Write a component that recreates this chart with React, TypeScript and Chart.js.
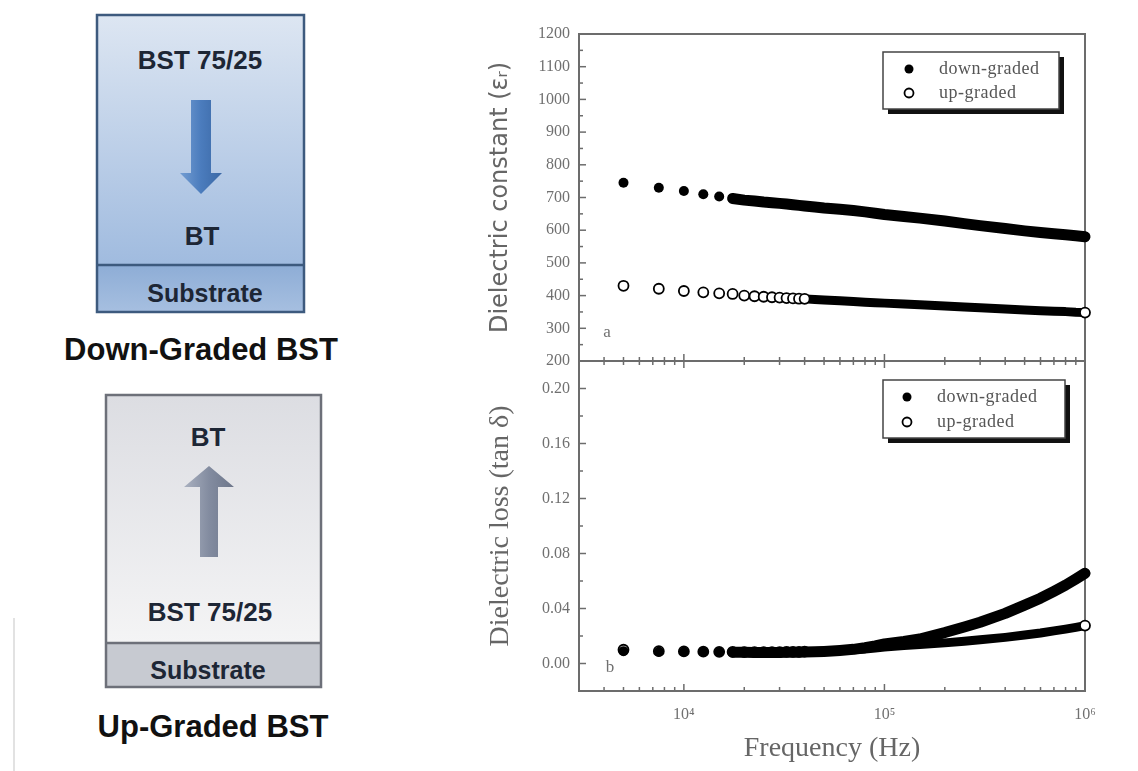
import React, { useEffect, useRef } from "react";
import { Chart, registerables } from "chart.js";

Chart.register(...registerables);

// ---- measured data (frequency sweep, Hz) ----
const frequencyHz = [
  5000, 7500, 10000, 12500, 15000, 17500, 20000, 22500, 25000, 27500, 30000, 32500,
  35000, 37500, 40000, 45000, 50000, 60000, 70000, 80000, 90000, 100000, 125000,
  150000, 200000, 250000, 300000, 400000, 500000, 600000, 700000, 800000, 900000, 1000000,
];

// dielectric constant (εr)
const permittivityDown = [
  745, 730, 720, 710, 703, 697, 692, 689, 686, 684, 682, 680, 678, 676, 674, 671, 668,
  664, 660, 656, 652, 648, 642, 637, 628, 620, 614, 605, 598, 593, 589, 586, 583, 580,
];
const permittivityUp = [
  430, 421, 414, 410, 407, 405, 400, 398, 396.5, 395, 394, 392.5, 391.5, 390.5, 390, 388,
  386.5, 384, 382, 380, 378.5, 377, 374, 372, 368, 365, 363, 359, 356, 354, 352, 351, 349, 348,
];

// dielectric loss (tan δ)
const lossDown = [
  0.009, 0.0085, 0.0085, 0.0085, 0.0083, 0.0082, 0.0081, 0.008, 0.008, 0.008, 0.008, 0.0081,
  0.0081, 0.0082, 0.0083, 0.0085, 0.0088, 0.0095, 0.0103, 0.0115, 0.0128, 0.0142, 0.016,
  0.0178, 0.0225, 0.0265, 0.03, 0.0365, 0.0425, 0.0475, 0.0525, 0.057, 0.0615, 0.0656,
];
const lossUp = [
  0.01, 0.009, 0.0088, 0.0086, 0.0085, 0.0084, 0.0083, 0.0083, 0.0083, 0.0083, 0.0083, 0.0084,
  0.0084, 0.0085, 0.0086, 0.0088, 0.009, 0.0095, 0.01, 0.0106, 0.0113, 0.012, 0.013, 0.0138,
  0.015, 0.0162, 0.0172, 0.019, 0.0207, 0.0222, 0.0237, 0.025, 0.0263, 0.0276,
];

const seriesLabels = ["down-graded", "up-graded"];

const permittivityTicks = [200, 300, 400, 500, 600, 700, 800, 900, 1000, 1100, 1200];
const permittivityTickLabels = ["200", "300", "400", "500", "600", "700", "800", "900", "1000", "1100", "1200"];
const lossTicks = [0, 0.04, 0.08, 0.12, 0.16, 0.2];
const lossTickLabels = ["0.00", "0.04", "0.08", "0.12", "0.16", "0.20"];
const decadeTicks = [10000, 100000, 1000000];
const decadeTickLabels = ["10\u2074", "10\u2075", "10\u2076"];

const FREQ_MIN = 3000;
const FREQ_MAX = 1000000;

// minor tick marks on the log axis: 2..9 × each decade
const minorFrequencyTicks: number[] = [];
for (const decade of [1000, 10000, 100000]) {
  for (let m = 2; m <= 9; m++) {
    const v = m * decade;
    if (v > FREQ_MIN && v < FREQ_MAX) minorFrequencyTicks.push(v);
  }
}
const midpoints = (ticks: number[]) => ticks.slice(1).map((v, i) => (v + ticks[i]) / 2);

const AXIS_GREY = "#6c6c6c";
const LABEL_GREY = "#707070";

// one dataset: discrete markers at low frequency, a dense trace where the sweep points overlap
function series(label: string, values: number[], filled: boolean, bandFromHz: number, markersUpToHz: number) {
  const last = values.length - 1;
  return {
    label,
    data: frequencyHz.map((x, i) => ({ x, y: values[i] })),
    showLine: true,
    borderColor: "#000",
    borderWidth: filled ? 11 : 9,
    borderJoinStyle: "round",
    borderCapStyle: "round",
    segment: {
      borderColor: (c: any) => (c.p0.parsed.x >= bandFromHz ? "#000" : "rgba(0,0,0,0)"),
    },
    pointStyle: "circle",
    pointRadius: (c: any) =>
      frequencyHz[c.dataIndex] <= markersUpToHz || c.dataIndex === last ? 5 : 0,
    pointBackgroundColor: filled ? "#000" : "#fff",
    pointBorderColor: "#000",
    pointBorderWidth: filled ? 0 : 1.8,
    clip: false,
  };
}

// axis frame with inward ticks (drawn under the data)
const framePlugin = {
  id: "frame",
  beforeDatasetsDraw(chart: any, _args: any, o: any) {
    const { ctx, chartArea, scales } = chart;
    const { left, right, top, bottom } = chartArea;
    const line = (x1: number, y1: number, x2: number, y2: number) => {
      ctx.beginPath();
      ctx.moveTo(x1, y1);
      ctx.lineTo(x2, y2);
      ctx.stroke();
    };
    ctx.save();
    ctx.strokeStyle = AXIS_GREY;
    ctx.lineWidth = 2;
    ctx.strokeRect(left, top, right - left, bottom - top);
    ctx.lineWidth = 1.5;
    for (const v of o.yMajor) {
      const py = scales.y.getPixelForValue(v);
      line(left, py, left + 7, py);
    }
    for (const v of o.yMinor) {
      const py = scales.y.getPixelForValue(v);
      line(left, py, left + 4, py);
    }
    const xs = scales.x;
    for (const [vals, len] of [
      [decadeTicks, 7],
      [minorFrequencyTicks, 4],
    ] as [number[], number][]) {
      for (const v of vals) {
        const px = xs.getPixelForValue(v);
        if (o.ticksOnBottom) line(px, bottom, px, bottom - len);
        if (o.ticksOnTop) line(px, top, px, top + len);
      }
    }
    ctx.restore();
  },
};

// boxed legend with drop shadow inside the plot, plus the panel letter
const boxLegendPlugin = {
  id: "boxLegend",
  afterDraw(chart: any, _args: any, o: any) {
    const { ctx } = chart;
    ctx.save();
    ctx.fillStyle = "#111";
    ctx.fillRect(o.x + 5, o.y + 5, o.w, o.h);
    ctx.fillStyle = "#fff";
    ctx.fillRect(o.x, o.y, o.w, o.h);
    ctx.strokeStyle = "#444";
    ctx.lineWidth = 1.5;
    ctx.strokeRect(o.x, o.y, o.w, o.h);
    chart.data.datasets.forEach((ds: any, i: number) => {
      const cy = o.rows[i];
      ctx.beginPath();
      ctx.arc(o.markerX, cy, 4.5, 0, Math.PI * 2);
      ctx.fillStyle = ds.pointBackgroundColor;
      ctx.fill();
      if (ds.pointBorderWidth) {
        ctx.lineWidth = ds.pointBorderWidth;
        ctx.strokeStyle = ds.pointBorderColor;
        ctx.stroke();
      }
      ctx.font = "18px 'Liberation Serif'";
      if ("letterSpacing" in ctx) (ctx as any).letterSpacing = "0.5px";
      ctx.fillStyle = "#555";
      ctx.textAlign = "left";
      ctx.textBaseline = "middle";
      ctx.fillText(ds.label, o.textX, cy);
      if ("letterSpacing" in ctx) (ctx as any).letterSpacing = "0px";
    });
    ctx.font = "17px 'Liberation Serif'";
    ctx.fillStyle = LABEL_GREY;
    ctx.textAlign = "center";
    ctx.textBaseline = "middle";
    ctx.fillText(o.letter, o.letterX, o.letterY);
    ctx.restore();
  },
};

const tickFont = { family: "'Liberation Serif'", size: 16 };

function frequencyAxis(display: boolean) {
  return {
    type: "logarithmic",
    display,
    min: FREQ_MIN,
    max: FREQ_MAX,
    afterBuildTicks: (s: any) => {
      s.ticks = decadeTicks.map((value) => ({ value }));
    },
    afterFit: (s: any) => {
      s.height = display ? 80 : 0;
    },
    grid: { display: false, drawTicks: false },
    border: { display: false },
    ticks: {
      autoSkip: false,
      maxRotation: 0,
      padding: 14,
      color: LABEL_GREY,
      font: tickFont,
      callback: (_v: any, i: number) => decadeTickLabels[i],
    },
    title: {
      display: true,
      text: "Frequency (Hz)",
      color: "#666",
      font: { family: "'Liberation Serif'", size: 28 },
      padding: { top: 0, bottom: 6 },
    },
  };
}

const topConfig: any = {
  type: "scatter",
  data: {
    datasets: [
      series(seriesLabels[0], permittivityDown, true, 17500, 15000),
      series(seriesLabels[1], permittivityUp, false, 30000, 40000),
    ],
  },
  options: {
    responsive: false,
    animation: false,
    layout: { padding: { left: 0, right: 53, top: 34, bottom: 39 } },
    plugins: {
      legend: { display: false },
      tooltip: { enabled: false },
      frame: {
        yMajor: permittivityTicks,
        yMinor: midpoints(permittivityTicks),
        ticksOnBottom: true,
        ticksOnTop: false,
      },
      boxLegend: {
        x: 443, y: 52, w: 176, h: 57,
        rows: [69, 93], markerX: 469, textX: 499,
        letter: "a", letterX: 167, letterY: 333,
      },
    },
    scales: {
      x: frequencyAxis(false),
      y: {
        type: "linear",
        min: 200,
        max: 1200,
        afterBuildTicks: (s: any) => {
          s.ticks = permittivityTicks.map((value) => ({ value }));
        },
        afterFit: (s: any) => {
          s.width = 139;
        },
        grid: { display: false, drawTicks: false },
        border: { display: false },
        ticks: {
          padding: 9,
          color: LABEL_GREY,
          font: tickFont,
          autoSkip: false,
          callback: (_v: any, i: number) => permittivityTickLabels[i],
        },
        title: {
          display: true,
          text: "Dielectric constant (\u03B5\u1D63)",
          color: "#666",
          font: { family: "'DejaVu Sans'", size: 24, weight: "normal" },
          padding: { top: 46, bottom: 0 },
        },
      },
    },
  },
  plugins: [framePlugin, boxLegendPlugin],
};

const bottomConfig: any = {
  type: "scatter",
  data: {
    datasets: [
      series(seriesLabels[0], lossDown, true, 17500, 15000),
      series(seriesLabels[1], lossUp, false, 30000, 40000),
    ],
  },
  options: {
    responsive: false,
    animation: false,
    layout: { padding: { left: 0, right: 53, top: 21, bottom: 0 } },
    plugins: {
      legend: { display: false },
      tooltip: { enabled: false },
      frame: {
        yMajor: lossTicks,
        yMinor: midpoints(lossTicks),
        ticksOnBottom: true,
        ticksOnTop: true,
      },
      boxLegend: {
        x: 443, y: 40, w: 182, h: 58,
        rows: [57, 82], markerX: 467, textX: 497,
        letter: "b", letterX: 170, letterY: 328,
      },
    },
    scales: {
      x: frequencyAxis(true),
      y: {
        type: "linear",
        min: -0.02,
        max: 0.22,
        afterBuildTicks: (s: any) => {
          s.ticks = lossTicks.map((value) => ({ value }));
        },
        afterFit: (s: any) => {
          s.width = 139;
        },
        grid: { display: false, drawTicks: false },
        border: { display: false },
        ticks: {
          padding: 9,
          color: LABEL_GREY,
          font: tickFont,
          autoSkip: false,
          callback: (_v: any, i: number) => lossTickLabels[i],
        },
        title: {
          display: true,
          text: "Dielectric loss (tan \u03B4)",
          color: "#666",
          font: { family: "'Liberation Serif'", size: 28 },
          padding: { top: 44, bottom: 0 },
        },
      },
    },
  },
  plugins: [framePlugin, boxLegendPlugin],
};

function ChartCanvas({ config, left, top, width, height }: any) {
  const ref = useRef<HTMLCanvasElement>(null);
  useEffect(() => {
    const chart = new Chart(ref.current as HTMLCanvasElement, config);
    return () => chart.destroy();
  }, [config]);
  return (
    <canvas
      ref={ref}
      width={width}
      height={height}
      style={{ position: "absolute", left, top, width, height }}
    />
  );
}

// schematic of the two graded film stacks
function GradingSchematic() {
  const sans = "'Liberation Sans', Arial, sans-serif";
  const t = (x: number, y: number, size: number, text: string, fill = "#1d2635") => (
    <text
      x={x}
      y={y}
      fontFamily={sans}
      fontWeight="bold"
      fontSize={size}
      textAnchor="middle"
      dominantBaseline="central"
      fill={fill}
    >
      {text}
    </text>
  );
  return (
    <svg width={440} height={771} style={{ position: "absolute", left: 0, top: 0 }}>
      <defs>
        <linearGradient id="blueLayer" x1="0" y1="0" x2="0" y2="1">
          <stop offset="0" stopColor="#dde6f2" />
          <stop offset="1" stopColor="#a0bbdf" />
        </linearGradient>
        <linearGradient id="blueSub" x1="0" y1="0" x2="0" y2="1">
          <stop offset="0" stopColor="#8eadd6" />
          <stop offset="1" stopColor="#a6bfe0" />
        </linearGradient>
        <linearGradient id="blueArrow" x1="0" y1="0" x2="1" y2="0">
          <stop offset="0" stopColor="#739dd2" />
          <stop offset="0.5" stopColor="#4b7cbd" />
          <stop offset="1" stopColor="#3b68a5" />
        </linearGradient>
        <linearGradient id="greyLayer" x1="0" y1="0" x2="0" y2="1">
          <stop offset="0" stopColor="#dcdde2" />
          <stop offset="1" stopColor="#f4f4f5" />
        </linearGradient>
        <linearGradient id="greyArrow" x1="0" y1="0" x2="1" y2="0">
          <stop offset="0" stopColor="#aab1c0" />
          <stop offset="0.5" stopColor="#838ca0" />
          <stop offset="1" stopColor="#6d768a" />
        </linearGradient>
      </defs>

      {/* down-graded stack */}
      <rect x={97} y={15} width={207} height={250} fill="url(#blueLayer)" />
      <rect x={97} y={265} width={207} height={47} fill="url(#blueSub)" />
      <rect x={97} y={15} width={207} height={297} fill="none" stroke="#3d5a7e" strokeWidth={2.5} />
      <line x1={97} y1={265} x2={304} y2={265} stroke="#3d5a7e" strokeWidth={2.5} />
      <path d="M191 100 H211 V173 H222 L201 194 L180 173 H191 Z" fill="url(#blueArrow)" />
      {t(200, 60, 26, "BST 75/25")}
      {t(202, 236, 26, "BT")}
      {t(205, 293, 25, "Substrate")}
      {t(201, 349, 31, "Down-Graded BST", "#111")}

      {/* up-graded stack */}
      <rect x={106} y={395} width={215} height={248} fill="url(#greyLayer)" />
      <rect x={106} y={643} width={215} height={44} fill="#c7cad1" />
      <rect x={106} y={395} width={215} height={292} fill="none" stroke="#6d7079" strokeWidth={2.5} />
      <line x1={106} y1={643} x2={321} y2={643} stroke="#6d7079" strokeWidth={2.5} />
      <path d="M200 557 V487 H184 L209 466 L234 487 H218 V557 Z" fill="url(#greyArrow)" />
      {t(208, 437, 26, "BT")}
      {t(210, 612, 26, "BST 75/25")}
      {t(208, 670, 25, "Substrate")}
      {t(213, 726, 31, "Up-Graded BST", "#111")}

      <line x1={14} y1={618} x2={14} y2={771} stroke="#e2e2e2" strokeWidth={2} />
    </svg>
  );
}

export default function App() {
  return (
    <div
      style={{
        position: "fixed",
        left: 0,
        top: 0,
        width: 1138,
        height: 771,
        background: "#fff",
        overflow: "hidden",
      }}
    >
      <GradingSchematic />
      <ChartCanvas config={topConfig} left={440} top={0} width={698} height={400} />
      <ChartCanvas config={bottomConfig} left={440} top={340} width={698} height={431} />
    </div>
  );
}
